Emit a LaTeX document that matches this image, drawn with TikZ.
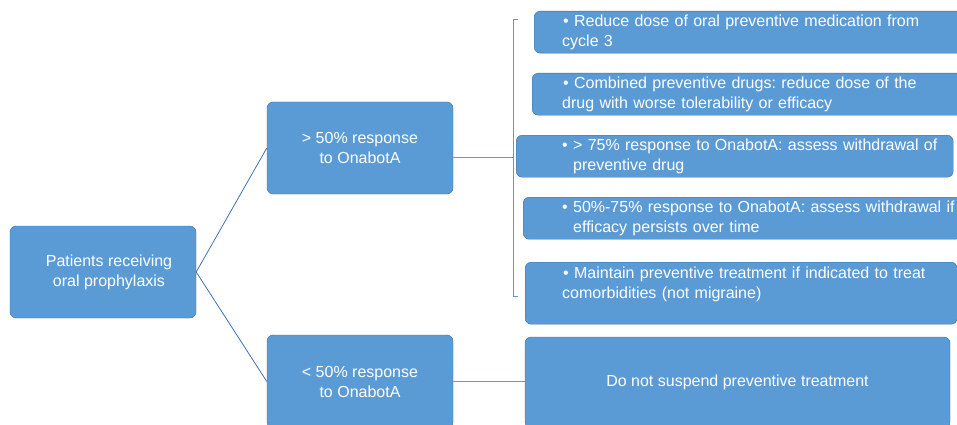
\documentclass[tikz,border=0pt]{standalone}
\usepackage{fontspec}
\setmainfont{Liberation Sans}
\frenchspacing
\definecolor{boxfill}{HTML}{5B9BD5}
\definecolor{boxline}{HTML}{41719C}
\definecolor{linkcol}{HTML}{3F72AF}
% two lines of text, each pushed in from the left edge of the box
\newcommand{\optlines}[4]{\hspace*{#1}#3\\\hspace*{#2}#4}
\begin{document}
\begin{tikzpicture}[x=1pt,y=-1pt,
    every node/.style={font=\fontsize{16}{20}\selectfont},
    cbox/.style={draw=boxline,fill=boxfill,text=white,rounded corners=6pt,
      align=center,inner sep=0pt},
    rbox/.style={draw=boxline,fill=boxfill,text=white,rounded corners=6pt,
      anchor=north west,align=left,inner xsep=0pt,inner ysep=0pt,minimum height=42pt},
    link/.style={draw=linkcol,line width=0.8pt}]
  \useasboundingbox (0,0) rectangle (957,425);
  % left part
  \node[cbox,minimum width=186pt,minimum height=92pt] (pat) at (103,272)
    {\hspace*{12pt}Patients receiving\\\hspace*{12pt}oral prophylaxis};
  \node[cbox,minimum width=186pt,minimum height=92pt] (hi) at (360,148)
    {> 50\% response\\to OnabotA};
  \node[cbox,minimum width=186pt,minimum height=93pt] (lo) at (360,381.5)
    {< 50\% response\\to OnabotA};
  \node[cbox,minimum width=425pt,minimum height=91pt] (dns) at (737.5,382.5)
    {Do not suspend preventive treatment};
  % options for >50% responders
  \node[rbox,text width=431pt] (opt1) at (534,11)
    {\optlines{29pt}{28pt}{• Reduce dose of oral preventive medication from}{cycle 3}};
  \node[rbox,text width=433pt] (opt2) at (532,73)
    {\optlines{31pt}{30pt}{• Combined preventive drugs: reduce dose of the}{drug with worse tolerability or efficacy}};
  \node[rbox,text width=437pt] (opt3) at (516,135)
    {\optlines{46pt}{57pt}{• > 75\% response to OnabotA: assess withdrawal of}{preventive drug}};
  \node[rbox,text width=438pt] (opt4) at (523,197)
    {\optlines{39pt}{50pt}{• 50\%-75\% response to OnabotA: assess withdrawal if}{efficacy persists over time}};
  \node[rbox,text width=432pt,minimum height=62pt] (opt5) at (525,262)
    {\optlines{38pt}{37pt}{• Maintain preventive treatment if indicated to treat}{comorbidities (not migraine)}\\\mbox{}};
  % bracket
  \coordinate (brtop) at (518,19);
  \coordinate (brmid) at (513,157);
  \coordinate (brbot) at (518,296);
  \draw[link,draw=boxfill] (brtop) -- (brtop -| brmid) -- (brbot -| brmid) -- (brbot);
  % connectors
  \draw[link] (pat.east) -- (hi.west);
  \draw[link] (pat.east) -- (lo.west);
  \draw[link,draw=boxfill] (hi.east |- brmid) -- (brmid);
  \draw[link,draw=boxfill] (lo.east) -- (lo.east -| dns.west);
\end{tikzpicture}
\end{document}
